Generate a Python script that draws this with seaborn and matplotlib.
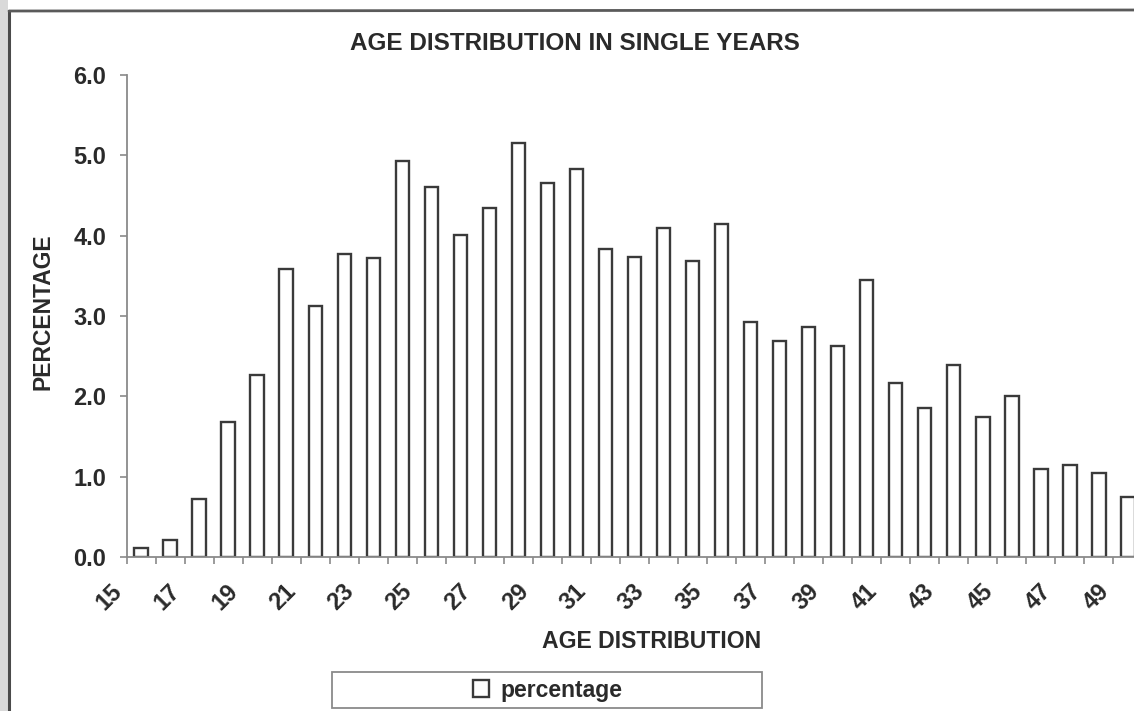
import numpy as np
import pandas as pd
import matplotlib
matplotlib.use("Agg")
import matplotlib.pyplot as plt
import seaborn as sns
from matplotlib.patches import Rectangle
from matplotlib.lines import Line2D

# ---- data ----
ages = list(range(15, 50))
percentage = [0.11, 0.21, 0.72, 1.68, 2.26, 3.58, 3.12, 3.77, 3.72, 4.93,
              4.60, 4.01, 4.34, 5.15, 4.66, 4.83, 3.83, 3.73, 4.10, 3.68,
              4.15, 2.92, 2.69, 2.86, 2.63, 3.45, 2.16, 1.86, 2.39, 1.74,
              2.01, 1.10, 1.15, 1.04, 0.75]
tick_labels = [str(a) if a % 2 else "" for a in ages]
y_ticks = [0, 1, 2, 3, 4, 5, 6]
y_tick_labels = [f"{v:.1f}" for v in y_ticks]

title = "AGE DISTRIBUTION IN SINGLE YEARS"
x_title = "AGE DISTRIBUTION"
y_title = "PERCENTAGE"
series_name = "percentage"

# ---- style ----
sns.set_theme(style="white")
plt.rcParams["font.family"] = ["Liberation Sans", "DejaVu Sans"]
TXT = "#2a2a2a"
EDGE = "#3a3a3a"
AXC = "#8a8a8a"

W, H = 1134, 711
fig = plt.figure(figsize=(W / 100, H / 100), dpi=100)
fig.patch.set_facecolor("white")

# scanned page frame
fig.add_artist(Rectangle((0, 0), 8 / W, 1, transform=fig.transFigure,
                         facecolor="#d9d9d9", edgecolor="none", zorder=-2))
fig.add_artist(Line2D([9 / W, 9 / W], [0, 1 - 11 / H], transform=fig.transFigure,
                      color="#4a4a4a", lw=2.2))
fig.add_artist(Line2D([9 / W, 1], [1 - 11 / H, 1 - 10 / H], transform=fig.transFigure,
                      color="#5a5a5a", lw=2.0))

left, right, top, bottom = 126.5, 1142.5, 75, 557
ax = fig.add_axes([left / W, 1 - bottom / H, (right - left) / W, (bottom - top) / H])
ax.set_facecolor("white")

df = pd.DataFrame({"age": [str(a) for a in ages], "percentage": percentage})
sns.barplot(data=df, x="age", y="percentage", order=[str(a) for a in ages],
            color="white", saturation=1, edgecolor=EDGE, linewidth=1.7,
            width=0.46, label=series_name, ax=ax)
handles, labels = ax.get_legend_handles_labels()
if ax.get_legend() is not None:
    ax.get_legend().remove()

ax.set_xlim(-0.5, len(ages) - 0.5)
ax.set_ylim(0, 6)
ax.set_xticks(np.arange(len(ages)) - 0.5)
ax.set_xticklabels(tick_labels, rotation=45, ha="right", va="top",
                   fontsize=17, fontweight="bold", color=TXT)
ax.set_yticks(y_ticks)
ax.set_yticklabels(y_tick_labels, fontsize=17, fontweight="bold", color=TXT)
ax.tick_params(axis="x", bottom=True, length=5, width=1.2, color=AXC, pad=11)
ax.tick_params(axis="y", left=True, length=5, width=1.2, color=AXC, pad=9.5)

for s in ["top", "right"]:
    ax.spines[s].set_visible(False)
for s in ["left", "bottom"]:
    ax.spines[s].set_color(AXC)
    ax.spines[s].set_linewidth(1.3)

ax.set_xlabel(x_title, fontsize=16.6, fontweight="bold", color=TXT)
ax.xaxis.set_label_coords((652 - left) / (right - left), (bottom - 630) / (bottom - top))
ax.set_ylabel(y_title, fontsize=16.5, fontweight="bold", color=TXT)
ax.yaxis.set_label_coords((54 - left) / (right - left), (bottom - 312) / (bottom - top))

fig.text(575 / W, 1 - 43.5 / H, title, ha="center", va="center",
         fontsize=17.5, fontweight="bold", color=TXT)

# legend
fig.add_artist(Rectangle((332 / W, 1 - 708 / H), (762 - 332) / W, (708 - 672) / H,
                         transform=fig.transFigure, facecolor="white",
                         edgecolor="#8a8a8a", lw=1.3, zorder=1))
leg = fig.legend(handles, labels, loc="center", bbox_to_anchor=(548 / W, 1 - 690 / H),
                 bbox_transform=fig.transFigure, frameon=False,
                 handlelength=0.7, handleheight=0.7, handletextpad=0.5,
                 prop={"weight": "bold", "size": 16.5})
for t in leg.get_texts():
    t.set_color(TXT)
leg.set_zorder(5)

fig.savefig("out.png", dpi=100)
